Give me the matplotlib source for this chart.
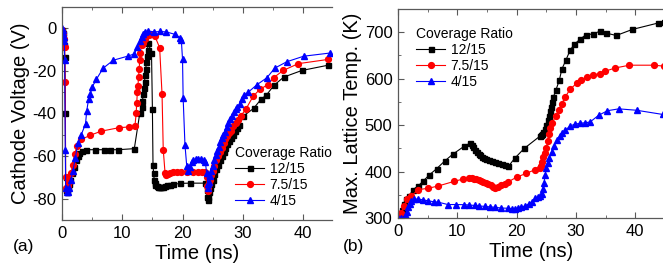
import matplotlib
matplotlib.use("Agg")
import matplotlib.pyplot as plt
from matplotlib.ticker import MultipleLocator

plt.rcParams['font.family'] = ['Liberation Sans', 'DejaVu Sans']
plt.rcParams['axes.unicode_minus'] = False

labels = ['12/15', '7.5/15', '4/15']
colors = ['black', '#ff0000', '#0000ff']
markers = ['s', 'o', '^']
msizes = [3.6, 4.2, 4.6]

# (a) cathode voltage vs time
t_a_black = [
    0, 0.1, 0.2, 0.3, 0.45, 0.55, 0.6, 0.7, 0.8, 1.0,
    1.2, 1.4, 1.7, 2.0, 2.3, 2.6, 2.9, 3.3, 3.9, 5.4,
    6.9, 7.9, 9.3, 12.0, 12.9, 13.2, 13.35, 13.5, 13.6, 13.7,
    13.8, 13.9, 14.0, 14.1, 14.2, 14.3, 14.85, 15.0, 15.1, 15.2,
    15.3, 15.4, 15.5, 15.7, 15.9, 16.1, 16.3, 16.5, 16.8, 17.1,
    17.5, 17.9, 18.5, 19.6, 21.2, 23.7, 24.0, 24.1, 24.2, 24.3,
    24.4, 24.6, 24.8, 25.0, 25.3, 25.6, 25.9, 26.2, 26.5, 26.8,
    27.1, 27.4, 27.7, 28.0, 28.3, 28.7, 29.0, 29.4, 30.0, 31.8,
    33.0, 33.9, 35.2, 36.8, 39.8, 44.2]
v_a_black = [
    -1, -2, -5, -8, -13.5, -40, -70, -76, -77, -75,
    -73, -71, -68, -65, -62, -60, -58.5, -57.5, -57, -57,
    -57, -57, -57, -56.5, -40, -37, -34, -31, -28, -25,
    -22, -19, -16, -13, -10, -7, -11.4, -37.8, -64, -68,
    -71, -72.6, -73.5, -74, -74.3, -74.5, -74.5, -74.5, -74.3, -74,
    -73.8, -73.7, -73.3, -72.8, -72.7, -72.7, -76, -79, -80.5, -79,
    -77, -75, -73, -71, -68.5, -66, -64, -62, -60, -58,
    -56, -54.5, -53, -51.5, -50, -48, -47, -45.2, -41.4, -37.6,
    -33.4, -31.4, -26.7, -22.9, -19.8, -17.3]

t_a_red = [
    0, 0.1, 0.2, 0.3, 0.45, 0.55, 0.6, 0.7, 0.8, 1.0,
    1.2, 1.5, 1.8, 2.1, 2.5, 3.2, 4.7, 6.5, 9.4, 11.1,
    12.1, 12.3, 12.4, 12.5, 12.6, 12.7, 12.8, 12.9, 13.0, 13.2,
    13.4, 13.7, 14.0, 14.4, 14.8, 15.4, 16.2, 16.6, 16.8, 17.1,
    17.3, 17.6, 18.0, 18.4, 19.1, 19.8, 20.8, 21.8, 22.5, 23.2,
    23.8, 24.0, 24.1, 24.2, 24.3, 24.4, 24.6, 24.8, 25.0, 25.3,
    25.6, 25.9, 26.2, 26.5, 26.8, 27.1, 27.4, 27.7, 28.0, 28.4,
    28.8, 29.2, 29.7, 30.5, 31.7, 32.8, 34.2, 35.1, 36.7, 39.2,
    44.2]
v_a_red = [
    -1, -2, -3, -5, -9, -25, -70, -75, -76, -74,
    -72, -68, -64, -59, -55.4, -52.2, -50.2, -48.3, -46.7, -46.3,
    -46, -40, -35, -30, -27, -23, -19, -15, -11.4, -8,
    -6.7, -5, -3.6, -3, -2.8, -3.6, -9.1, -31, -57, -68,
    -69, -68.5, -68, -67.5, -67.5, -67.5, -67.5, -67.5, -67.5, -67.5,
    -67.5, -70, -74, -76.5, -75, -73, -71, -69, -67, -64.5,
    -62, -60, -58, -56, -54, -52, -50.5, -49, -48, -46,
    -44.5, -43, -41, -38, -32, -28.7, -26.4, -23.2, -19.8, -16.6,
    -14.6]

t_a_blue = [
    0, 0.1, 0.2, 0.3, 0.4, 0.45, 0.55, 0.6, 0.8, 1.0,
    1.2, 1.5, 1.8, 2.2, 2.65, 3.2, 3.9, 4.1, 4.4, 4.7,
    5.0, 5.7, 6.8, 8.5, 11.0, 12.0, 12.5, 12.9, 13.2, 13.5,
    13.8, 14.3, 15.3, 16.3, 17.3, 18.7, 19.6, 19.8, 20.0, 20.1,
    20.4, 20.7, 20.9, 21.2, 21.5, 21.8, 22.2, 22.6, 23.0, 23.5,
    23.8, 24.0, 24.2, 24.3, 24.45, 24.6, 24.8, 25.0, 25.25, 25.5,
    25.75, 26.0, 26.25, 26.5, 26.75, 27.0, 27.3, 27.6, 27.9, 28.2,
    28.5, 28.8, 29.1, 29.5, 29.9, 30.2, 30.9, 32.3, 34.0, 35.3,
    37.3, 40.1, 44.5]
v_a_blue = [
    0, -1, -2, -4, -6, -15, -57, -75, -77, -77,
    -75, -71, -67, -61, -53.8, -49.9, -44.9, -38.9, -33.4, -31,
    -27.6, -24, -18.8, -15, -13, -12, -9, -6, -4, -2.5,
    -1.8, -1.3, -1.7, -1.5, -1.7, -2.8, -4.4, -5.5, -14.6, -32.6,
    -54.6, -64.8, -67, -65, -63, -62, -61.5, -61.5, -61.5, -62,
    -63, -68, -73, -75, -72, -69.5, -67, -64.5, -62, -59.5,
    -57.5, -55.5, -53.5, -51.5, -50, -48.5, -46.5, -44.5, -42.5, -41,
    -39.5, -38, -37, -35.5, -33, -31.5, -30, -26.6, -23.2, -18.7,
    -15.7, -13.1, -11.6]

# (b) max lattice temperature vs time
t_b_black = [
    0, 0.3, 0.6, 1.0, 1.4, 1.9, 2.5, 3.4, 4.2, 5.3,
    6.5, 7.9, 9.2, 11.1, 12.1, 12.4, 12.7, 13.0, 13.3, 13.6,
    13.9, 14.2, 14.5, 14.9, 15.3, 15.8, 16.3, 16.9, 17.5, 18.0,
    18.6, 19.7, 21.3, 23.9, 24.1, 24.3, 24.5, 24.8, 25.0, 25.2,
    25.4, 25.6, 25.8, 26.0, 26.2, 26.6, 27.2, 27.6, 28.3, 29.0,
    29.7, 30.7, 31.7, 32.8, 34.0, 35.1, 36.8, 39.5, 43.9, 44.8]
temp_b_black = [
    300, 303, 318, 330, 340, 347, 361, 369, 379, 393,
    406, 423, 437, 454, 461, 457, 452, 447, 442, 438,
    435, 432, 429, 426, 424, 422, 420, 418, 416, 414,
    411, 429, 450, 476, 478, 481, 485, 492, 500, 510,
    520, 530, 540, 550, 561, 575, 597, 620, 640, 661,
    674, 685, 695, 696, 702, 698, 693, 706, 720, 722]

t_b_red = [
    0, 0.5, 1.0, 1.5, 2.2, 3.4, 5.1, 6.8, 9.5, 11.0,
    12.0, 12.4, 12.8, 13.2, 13.6, 14.0, 14.4, 14.8, 15.2, 15.6,
    16.0, 16.4, 16.9, 17.4, 18.0, 18.6, 20.0, 21.6, 23.1, 23.9,
    24.1, 24.3, 24.5, 24.8, 25.0, 25.2, 25.4, 25.6, 26.0, 26.6,
    27.1, 27.6, 28.2, 29.0, 30.1, 30.9, 31.9, 32.9, 34.0, 34.9,
    36.6, 39.0, 43.1, 44.8]
temp_b_red = [
    300, 310, 325, 340, 347, 361, 364, 369, 379, 384,
    386, 386, 385, 383, 381, 379, 377, 375, 373, 370,
    367, 365, 366, 370, 374, 378, 388, 396, 404, 407,
    412, 420, 432, 441, 450, 465, 480, 493, 505, 520,
    533, 546, 561, 577, 590, 597, 603, 608, 611, 616,
    623, 629, 629, 627]

t_b_blue = [
    0, 0.5, 1.0, 1.3, 1.5, 1.7, 2.0, 2.2, 2.7, 3.4,
    4.2, 5.1, 6.0, 6.8, 8.4, 9.8, 11.2, 12.0, 12.9, 13.6,
    14.6, 15.5, 16.4, 17.4, 18.5, 19.2, 19.7, 20.2, 20.8, 21.4,
    22.0, 22.6, 23.1, 23.6, 24.0, 24.2, 24.4, 24.6, 24.8, 25.0,
    25.2, 25.5, 25.9, 26.3, 26.8, 27.3, 27.7, 28.2, 29.0, 29.8,
    30.7, 31.6, 32.4, 33.8, 35.3, 37.2, 40.2, 44.6]
temp_b_blue = [
    300, 300, 301, 305, 313, 324, 331, 336, 340, 341,
    339, 337, 335, 334, 329, 329, 328.6, 328, 327, 326,
    325, 324, 323, 321.5, 321, 320, 320, 321, 323, 326,
    330, 335, 342, 345, 348, 352, 362, 375, 392, 408,
    418, 430, 443, 455, 468, 477, 484, 489, 498, 502,
    504, 505, 507, 521, 531, 535, 532, 523]

fig = plt.figure(figsize=(6.63, 2.66), dpi=100)
ax1 = fig.add_axes([62 / 663, 1 - 220 / 266, 270 / 663, 213 / 266])
ax2 = fig.add_axes([398 / 663, 1 - 218 / 266, 267 / 663, 209 / 266])

series_a = [(t_a_black, v_a_black), (t_a_red, v_a_red), (t_a_blue, v_a_blue)]
series_b = [(t_b_black, temp_b_black), (t_b_red, temp_b_red), (t_b_blue, temp_b_blue)]

for ax, series in [(ax1, series_a), (ax2, series_b)]:
    for (x, y), lab, c, m, ms in zip(series, labels, colors, markers, msizes):
        ax.plot(x, y, color=c, marker=m, ms=ms, lw=0.8, label=lab)

ax1.set_xlim(0, 44.8)
ax1.set_ylim(-90, 10)
ax1.yaxis.set_major_locator(MultipleLocator(20))
ax1.yaxis.set_minor_locator(MultipleLocator(10))
ax1.set_ylabel('Cathode Voltage (V)', fontsize=14.5, labelpad=2)

ax2.set_xlim(0, 45)
ax2.set_ylim(300, 750)
ax2.yaxis.set_major_locator(MultipleLocator(100))
ax2.yaxis.set_minor_locator(MultipleLocator(50))
ax2.set_ylabel('Max. Lattice Temp. (K)', fontsize=14.5, labelpad=2)

for ax in (ax1, ax2):
    ax.xaxis.set_major_locator(MultipleLocator(10))
    ax.xaxis.set_minor_locator(MultipleLocator(5))
    ax.set_xlabel('Time (ns)', fontsize=14.5, labelpad=2.5)
    ax.tick_params(which='both', direction='in', top=True, labelsize=12,
                   color='0.35', pad=4)
    ax.tick_params(which='major', length=4)
    ax.tick_params(which='minor', length=2.5)
    ax.spines['right'].set_visible(False)
    for s in ('left', 'bottom', 'top'):
        ax.spines[s].set_color('0.35')
        ax.spines[s].set_linewidth(0.9)

legend_kw = dict(title='Coverage Ratio', loc='upper left', frameon=False,
                 fontsize=10, title_fontsize=10, handlelength=2.1,
                 handletextpad=0.4, labelspacing=0.15, borderpad=0,
                 alignment='left', bbox_transform=fig.transFigure)
ax1.legend(bbox_to_anchor=(228 / 663, 1 - 139 / 266), **legend_kw)
ax2.legend(bbox_to_anchor=(409 / 663, 1 - 20 / 266), **legend_kw)

fig.text(13 / 663, 1 - 247 / 266, '(a)', fontsize=12.5, va='center')
fig.text(343 / 663, 1 - 247 / 266, '(b)', fontsize=12.5, va='center')

fig.savefig('out.png', dpi=100)
